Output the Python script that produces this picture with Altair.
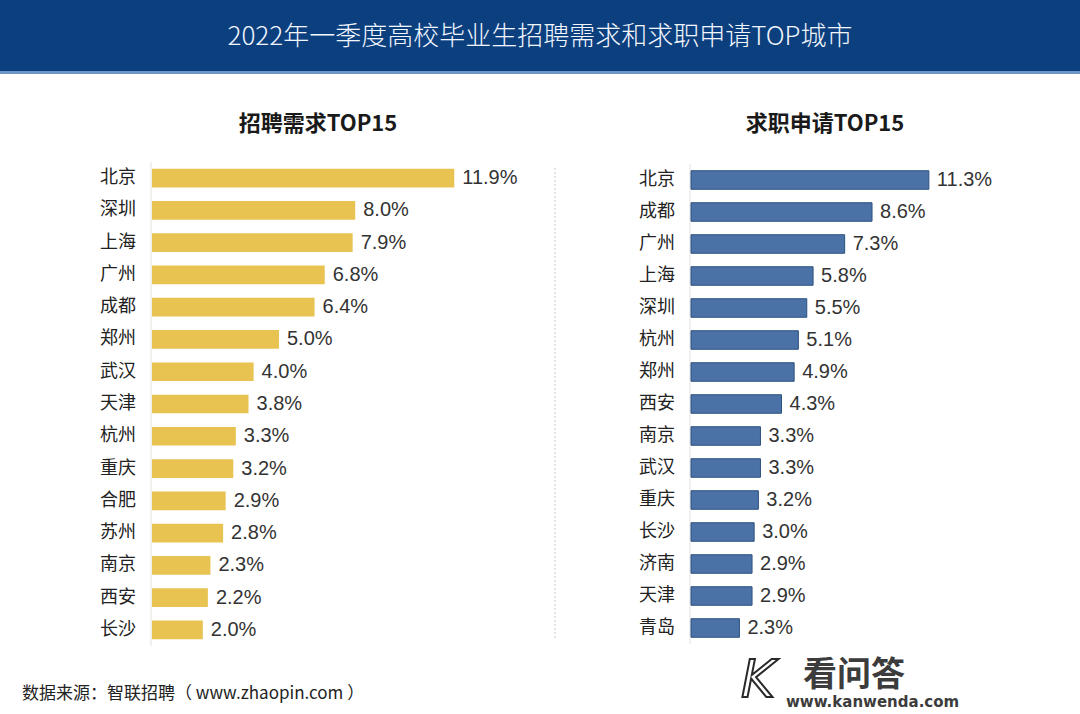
import altair as alt
import pandas as pd

title_text = "2022年一季度高校毕业生招聘需求和求职申请TOP城市"
left_title = "招聘需求TOP15"
right_title = "求职申请TOP15"
source_text = "数据来源：智联招聘（ www.zhaopin.com ）"

left_cities = ["北京", "深圳", "上海", "广州", "成都", "郑州", "武汉", "天津",
               "杭州", "重庆", "合肥", "苏州", "南京", "西安", "长沙"]
left_values = [11.9, 8.0, 7.9, 6.8, 6.4, 5.0, 4.0, 3.8, 3.3, 3.2, 2.9, 2.8, 2.3, 2.2, 2.0]

right_cities = ["北京", "成都", "广州", "上海", "深圳", "杭州", "郑州", "西安",
                "南京", "武汉", "重庆", "长沙", "济南", "天津", "青岛"]
right_values = [11.3, 8.6, 7.3, 5.8, 5.5, 5.1, 4.9, 4.3, 3.3, 3.3, 3.2, 3.0, 2.9, 2.9, 2.3]

FONT = "Noto Sans CJK SC"
one = pd.DataFrame({"a": [0]})

left_df = pd.DataFrame({"city": left_cities, "v": left_values})
right_df = pd.DataFrame({"city": right_cities, "v": right_values})


def panel(df, cities, xrange, yrange, color, stroke, label_x, axis_x):
    xs = alt.Scale(domain=[0, 12], range=xrange)
    ys = alt.Scale(domain=cities, range=yrange, paddingInner=0.42, paddingOuter=0.21)
    base = alt.Chart(df).transform_calculate(
        label="format(datum.v, '.1f') + '%'"
    )
    bars = base.mark_bar(color=color, stroke=stroke, strokeWidth=1 if stroke else 0).encode(
        x=alt.X("v:Q", scale=xs, axis=None),
        y=alt.Y("city:N", scale=ys, axis=None, sort=None),
    )
    vals = base.mark_text(align="left", baseline="middle", dx=8, font="Liberation Sans",
                          fontSize=20, color="#333333").encode(
        x=alt.X("v:Q", scale=xs, axis=None),
        y=alt.Y("city:N", scale=ys, axis=None, sort=None),
        text="label:N",
    )
    names = base.mark_text(align="right", baseline="middle", font=FONT,
                           fontSize=18, color="#222222").encode(
        x=alt.value(label_x),
        y=alt.Y("city:N", scale=ys, axis=None, sort=None),
        text="city:N",
    )
    axis_line = alt.Chart(one).mark_rule(color="#e2e2dc", strokeWidth=1).encode(
        x=alt.value(axis_x), y=alt.value(yrange[0]), y2=alt.value(yrange[1])
    )
    return alt.layer(axis_line, bars, vals, names)


left = panel(left_df, left_cities, [152, 152 + 12 * 25.4], [162, 646],
             "#E8C352", None, 136, 151)
right = panel(right_df, right_cities, [691, 691 + 12 * 21.05], [164, 644],
              "#4A72A6", "#2D5282", 675, 690)

header = alt.Chart(one).mark_rect(color="#0C3F7E").encode(
    x=alt.value(0), x2=alt.value(1080), y=alt.value(0), y2=alt.value(71)
)
header_line = alt.Chart(one).mark_rect(color="#6D95C8").encode(
    x=alt.value(0), x2=alt.value(1080), y=alt.value(71), y2=alt.value(74)
)
title = alt.Chart(one).mark_text(font=FONT, fontSize=26, color="#F2F6FF",
                                 align="center", baseline="middle",
                                 fontWeight=300).encode(
    x=alt.value(540), y=alt.value(37), text=alt.value(title_text)
)
sub_l = alt.Chart(one).mark_text(font=FONT, fontSize=22, fontWeight="bold",
                                 color="#1a1a1a", align="center", baseline="middle").encode(
    x=alt.value(318), y=alt.value(124), text=alt.value(left_title)
)
sub_r = alt.Chart(one).mark_text(font=FONT, fontSize=22, fontWeight="bold",
                                 color="#1a1a1a", align="center", baseline="middle").encode(
    x=alt.value(825), y=alt.value(124), text=alt.value(right_title)
)
sep = alt.Chart(one).mark_rule(color="#c8c8c8", strokeDash=[2, 2], strokeWidth=1).encode(
    x=alt.value(555), y=alt.value(168), y2=alt.value(640)
)
source = alt.Chart(one).mark_text(font=FONT, fontSize=17, color="#222222",
                                  align="left", baseline="middle").encode(
    x=alt.value(22), y=alt.value(694), text=alt.value(source_text)
)
wm_box = alt.Chart(one).mark_rect(color="white").encode(
    x=alt.value(720), x2=alt.value(950), y=alt.value(648), y2=alt.value(714)
)
wm_k = alt.Chart(one).mark_text(font="DejaVu Sans", fontSize=52,
                                fontStyle="italic", color="white", stroke="#2a2a2a",
                                strokeWidth=2, align="center", baseline="middle").encode(
    x=alt.value(758), y=alt.value(681), text=alt.value("K")
)
wm_t = alt.Chart(one).mark_text(font=FONT, fontSize=34, fontWeight="bold",
                                color="#3c3c3c", align="left", baseline="middle").encode(
    x=alt.value(803), y=alt.value(676), text=alt.value("看问答")
)
wm_u = alt.Chart(one).mark_text(font="DejaVu Sans", fontSize=15, fontWeight="bold",
                                color="#3c3c3c", align="left", baseline="middle").encode(
    x=alt.value(786), y=alt.value(702), text=alt.value("www.kanwenda.com")
)

chart = alt.layer(
    header, header_line, title, sub_l, sub_r, sep, left, right, source,
    wm_box, wm_k, wm_t, wm_u
).resolve_scale(x="independent", y="independent").properties(
    width=1080, height=714, padding=0, autosize="none", background="white"
).configure_view(stroke=None)

chart.save("out.html", embed_options={"renderer": "svg", "actions": False})
